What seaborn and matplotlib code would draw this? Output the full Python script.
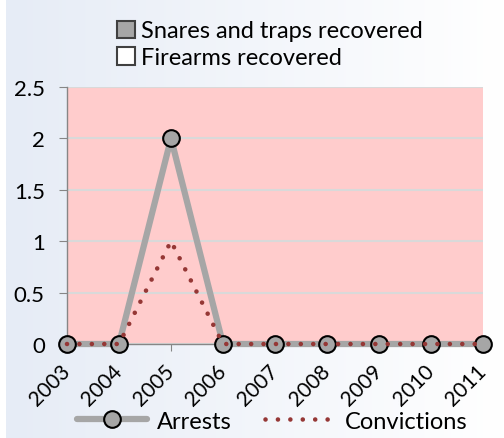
import numpy as np
import pandas as pd
import matplotlib
matplotlib.use("Agg")
import matplotlib.pyplot as plt
import seaborn as sns
from matplotlib.patches import Patch
from matplotlib.lines import Line2D

years = [2003, 2004, 2005, 2006, 2007, 2008, 2009, 2010, 2011]
arrests = [0, 0, 2, 0, 0, 0, 0, 0, 0]
convictions = [0, 0, 1, 0, 0, 0, 0, 0, 0]
snares_recovered = [0, 0, 0, 0, 0, 0, 0, 0, 0]
firearms_recovered = [0, 0, 0, 0, 0, 0, 0, 0, 0]
y_ticks = [0, 0.5, 1, 1.5, 2, 2.5]

sns.set_style("white")
plt.rcParams["font.family"] = ["Lato", "DejaVu Sans"]
plt.rcParams["text.color"] = "black"
plt.rcParams["xtick.color"] = "black"
plt.rcParams["ytick.color"] = "black"

df = pd.DataFrame({"year": years, "Arrests": arrests, "Convictions": convictions})

fig = plt.figure(figsize=(5.04, 4.39), dpi=100)

# soft blue-to-white background
bg = fig.add_axes([6 / 504, 0, 1 - 6 / 504, 1], zorder=-10)
grad = np.linspace(0, 1, 256)[None, :]
cmap = matplotlib.colors.LinearSegmentedColormap.from_list("bg", ["#E6ECF6", "#FFFFFF"])
bg.imshow(grad, aspect="auto", cmap=cmap, extent=[0, 1, 0, 1])
bg.set_axis_off()

ax = fig.add_axes([67 / 504, 1 - 345 / 439, (483 - 67) / 504, (345 - 88) / 439])
ax.set_facecolor("#FFCCCC")

dot_style = (0, (0.01, 2.7))

sns.lineplot(data=df, x="year", y="Arrests", ax=ax, color="#A6A6A6", lw=4.5,
             marker="o", markersize=12, markerfacecolor="#A6A6A6",
             markeredgecolor="black", markeredgewidth=1.5, clip_on=False, zorder=3)
sns.lineplot(data=df, x="year", y="Convictions", ax=ax, color="#953735", lw=3.3,
             dashes=False, clip_on=False, zorder=4)
conv_line = ax.lines[-1]
conv_line.set_linestyle(dot_style)
conv_line.set_dash_capstyle("round")

ax.set_xlim(years[0], years[-1])
ax.set_ylim(0, 2.5)
ax.set_yticks(y_ticks)
ax.set_yticklabels(["0", "0.5", "1", "1.5", "2", "2.5"], fontsize=16)
ax.set_xticks(years)
ax.set_xticklabels([str(y) for y in years], fontsize=15, rotation=45,
                   ha="right", rotation_mode="anchor", va="center")
ax.set_xlabel("")
ax.set_ylabel("")
ax.grid(axis="y", color="#D9D9D9", lw=1.5, zorder=0)
ax.set_axisbelow(True)

for side in ["top", "right"]:
    ax.spines[side].set_visible(False)
for side in ["left", "bottom"]:
    ax.spines[side].set_color("#868686")
    ax.spines[side].set_linewidth(1)
ax.tick_params(axis="y", length=6, color="#868686", left=True, pad=10)
ax.tick_params(axis="x", length=5, color="#868686", bottom=True, pad=12)

# top legend (recovery series)
top_handles = [Patch(facecolor="#A6A6A6", edgecolor="#404040", lw=1.5),
               Patch(facecolor="#FFFFFF", edgecolor="#404040", lw=1.5)]
leg1 = fig.legend(top_handles, ["Snares and traps recovered", "Firearms recovered"],
                  loc="upper left", bbox_to_anchor=(108 / 504, 1 - 12 / 439),
                  frameon=False, fontsize=17, handlelength=0.75, handleheight=0.75,
                  handletextpad=0.25, labelspacing=0.25, borderaxespad=0)

# bottom legend
bot_handles = [Line2D([], [], color="#A6A6A6", lw=4.5, marker="o", markersize=12,
                      markerfacecolor="#A6A6A6", markeredgecolor="black",
                      markeredgewidth=1.5),
               Line2D([], [], color="#953735", lw=3.3, linestyle=dot_style,
                      dash_capstyle="round")]
leg2 = fig.legend(bot_handles, ["Arrests", "Convictions"], loc="lower center",
                  bbox_to_anchor=(272 / 504, -3 / 439), ncol=2, frameon=False, fontsize=17,
                  handlelength=3.0, handletextpad=0.4, columnspacing=1.4,
                  borderaxespad=0)

fig.savefig("out.png", dpi=100)
